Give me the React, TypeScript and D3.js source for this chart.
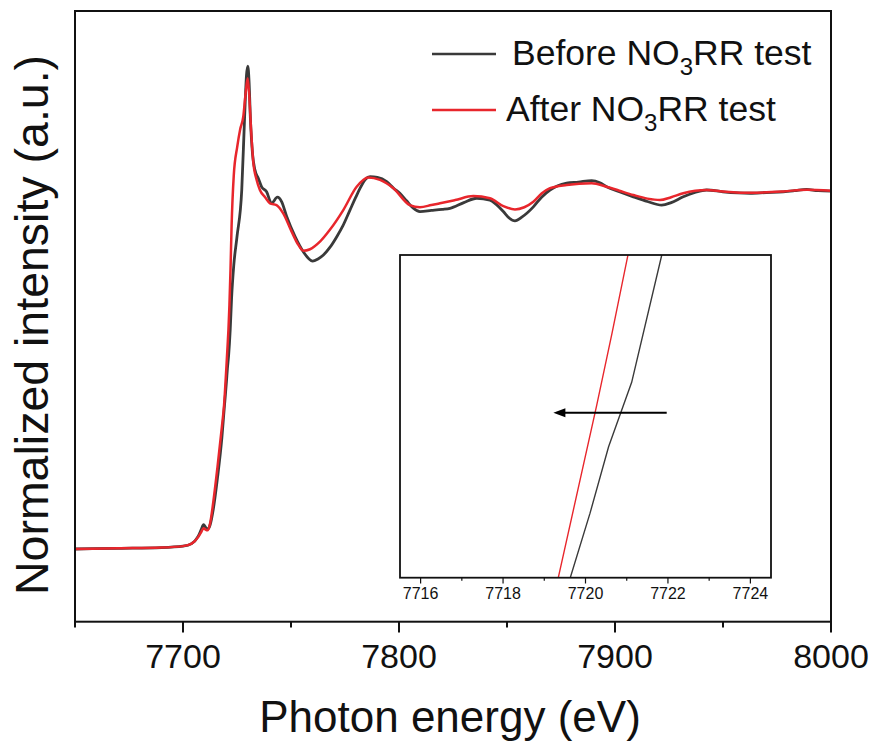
import React from "react";
import * as d3 from "d3";

// ---------- data ----------
const beforeData: [number, number][] = [
  [7650, 0.0], [7670, 0.002], [7690, 0.004], [7700, 0.008], [7704, 0.015], [7707, 0.035],
  [7708.5, 0.055], [7709.5, 0.068], [7710.5, 0.06], [7711.3, 0.055], [7712.5, 0.066],
  [7714, 0.11], [7716, 0.2], [7718, 0.31], [7719.2, 0.4], [7719.63, 0.43], [7720.11, 0.466],
  [7720.56, 0.503], [7721.12, 0.539], [7721.85, 0.61], [7722.5, 0.7], [7723.5, 0.79],
  [7725, 0.87], [7727.2, 1.0], [7728.5, 1.2], [7729.4, 1.32], [7730, 1.345], [7730.6, 1.3],
  [7731.2, 1.2], [7732.2, 1.1], [7733.3, 1.056], [7734.9, 1.032], [7736.4, 1.009],
  [7738.7, 0.995], [7741, 0.963], [7743.7, 0.98], [7745.7, 0.967], [7748, 0.926],
  [7751.9, 0.87], [7755.7, 0.828], [7760, 0.802], [7762.5, 0.808], [7765, 0.819],
  [7768, 0.84], [7771.2, 0.87], [7774, 0.9], [7777.3, 0.944], [7780, 0.98], [7782, 1.005],
  [7784.5, 1.03], [7786.6, 1.037], [7790, 1.035], [7794.3, 1.023], [7797.5, 1.005],
  [7800.5, 0.99], [7803.5, 0.97], [7806.5, 0.95], [7809.7, 0.94], [7815, 0.943],
  [7820, 0.946], [7823.6, 0.949], [7830, 0.965], [7836, 0.977], [7842.1, 0.972],
  [7845, 0.96], [7848.3, 0.94], [7851, 0.922], [7853.7, 0.914], [7857, 0.925],
  [7862.2, 0.953], [7866, 0.98], [7869.9, 1.0], [7873.5, 1.012], [7877.6, 1.019],
  [7883, 1.022], [7889.2, 1.026], [7893, 1.02], [7896.1, 1.009], [7902, 0.995],
  [7908.5, 0.981], [7915, 0.968], [7921.6, 0.958], [7926, 0.965], [7931.6, 0.981],
  [7937, 0.993], [7942.4, 1.0], [7950, 0.995], [7962.5, 0.991], [7970, 0.993],
  [7977.9, 0.995], [7983, 0.998], [7988.7, 1.002], [7994, 0.998], [8000, 0.997],
];

const afterData: [number, number][] = [
  [7650, 0.0], [7670, 0.002], [7690, 0.004], [7700, 0.008], [7704, 0.015], [7707, 0.033],
  [7708.5, 0.048], [7709.5, 0.058], [7710.5, 0.054], [7711.3, 0.052], [7712.5, 0.07],
  [7714, 0.13], [7716, 0.23], [7718, 0.34], [7719.0, 0.4], [7719.34, 0.43], [7720.27, 0.526],
  [7720.64, 0.566], [7721.03, 0.61], [7721.5, 0.68], [7722, 0.78], [7722.5, 0.9],
  [7723.5, 1.04], [7725.1, 1.12], [7726.5, 1.17], [7727.9, 1.204], [7729, 1.27],
  [7729.95, 1.311], [7730.7, 1.26], [7731.5, 1.17], [7732.5, 1.08], [7734.1, 1.028],
  [7735.6, 1.0], [7738, 0.98], [7740.3, 0.963], [7743.3, 0.958], [7746.4, 0.935],
  [7750.3, 0.884], [7753.4, 0.847], [7755.7, 0.831], [7758.8, 0.835], [7763.4, 0.856],
  [7768, 0.889], [7774.2, 0.944], [7780.4, 1.009], [7785.8, 1.035], [7791.2, 1.028],
  [7797.4, 1.005], [7805, 0.958], [7809.7, 0.952], [7815, 0.958], [7819, 0.963],
  [7826, 0.972], [7834.4, 0.983], [7842.1, 0.977], [7848.3, 0.955], [7853.7, 0.946],
  [7858, 0.952], [7862.2, 0.967], [7866, 0.99], [7869.9, 1.005], [7877.6, 1.014],
  [7889.2, 1.019], [7896.1, 1.009], [7902, 0.998], [7908.5, 0.986], [7915, 0.976],
  [7920.8, 0.972], [7926, 0.98], [7931.6, 0.991], [7942.4, 1.0], [7950, 0.996],
  [7962.5, 0.992], [7977.9, 0.996], [7988.7, 1.001], [8000, 0.998],
];

const xMajorTicks = [7700, 7800, 7900, 8000];
const xMinorTicks = [7650, 7750, 7850, 7950];
const insetMajorTicks = [7716, 7718, 7720, 7722, 7724];
const insetMinorTicks = [7717, 7719, 7721, 7723];
const arrowFrom: [number, number] = [7721.97, 0.522];
const arrowTo: [number, number] = [7719.22, 0.522];

const legendLabels = ["Before", "After"];
const xTitle = "Photon energy (eV)";
const yTitle = "Normalized intensity (a.u.)";

// ---------- style ----------
const BLACK = "#3a3a3a";
const RED = "#e8262c";
const FONT = "Liberation Sans, Arial, sans-serif";

export default function App() {
  const x = d3.scaleLinear().domain([7650, 8000]).range([75, 831]);
  const y = d3.scaleLinear().domain([-0.2025, 1.4986]).range([621.7, 11]);

  const line = d3
    .line<[number, number]>()
    .x((d) => x(d[0]))
    .y((d) => y(d[1]))
    .curve(d3.curveMonotoneX);

  const ix = d3.scaleLinear().domain([7715.5, 7724.5]).range([400, 771]);
  const iy = d3.scaleLinear().domain([0.43, 0.61]).range([577.7, 255]);
  const iline = d3
    .line<[number, number]>()
    .x((d) => ix(d[0]))
    .y((d) => iy(d[1]))
    .curve(d3.curveLinear);

  const ax1 = ix(arrowFrom[0]);
  const ax2 = ix(arrowTo[0]);
  const ay = iy(arrowFrom[1]);

  return (
    <svg
      width={875}
      height={746}
      style={{ position: "absolute", left: 0, top: 0, background: "#fff" }}
      fontFamily={FONT}
    >
      <defs>
        <clipPath id="mainClip">
          <rect x={75} y={11} width={756} height={610.7} />
        </clipPath>
        <clipPath id="insetClip">
          <rect x={400} y={255} width={371} height={322.7} />
        </clipPath>
      </defs>

      {/* main curves */}
      <g clipPath="url(#mainClip)">
        <path d={line(beforeData) || ""} fill="none" stroke={BLACK} strokeWidth={2.8} strokeLinejoin="round" />
        <path d={line(afterData) || ""} fill="none" stroke={RED} strokeWidth={2.5} strokeLinejoin="round" />
      </g>

      {/* main frame */}
      <rect x={75} y={11} width={756} height={610.7} fill="none" stroke="#111" strokeWidth={2} />
      {xMajorTicks.map((t) => (
        <line key={"M" + t} x1={x(t)} x2={x(t)} y1={621.7} y2={632.5} stroke="#111" strokeWidth={2} />
      ))}
      {xMinorTicks.map((t) => (
        <line key={"m" + t} x1={x(t)} x2={x(t)} y1={621.7} y2={627.5} stroke="#111" strokeWidth={2} />
      ))}
      {xMajorTicks.map((t) => (
        <text key={"L" + t} x={x(t)} y={668} fontSize={34} textAnchor="middle" fill="#111">
          {t}
        </text>
      ))}
      <text x={450} y={732} fontSize={44} textAnchor="middle" fill="#111">
        {xTitle}
      </text>
      <text
        transform={`translate(48,325) rotate(-90)`}
        fontSize={46.5}
        textAnchor="middle"
        fill="#111"
      >
        {yTitle}
      </text>

      {/* legend */}
      <line x1={432} x2={496} y1={54} y2={54} stroke={BLACK} strokeWidth={2.6} />
      <text x={512} y={65} fontSize={35.5} fill="#111">
        {legendLabels[0]} NO<tspan dy={10} fontSize={24}>3</tspan>
        <tspan dy={-10}>RR test</tspan>
      </text>
      <line x1={432} x2={496} y1={110} y2={110} stroke={RED} strokeWidth={2.6} />
      <text x={506} y={121} fontSize={35.5} fill="#111">
        {legendLabels[1]} NO<tspan dy={10} fontSize={24}>3</tspan>
        <tspan dy={-10}>RR test</tspan>
      </text>

      {/* inset */}
      <rect x={400} y={255} width={371} height={322.7} fill="#fff" />
      <g clipPath="url(#insetClip)">
        <path d={iline(beforeData) || ""} fill="none" stroke={BLACK} strokeWidth={1.4} />
        <path d={iline(afterData) || ""} fill="none" stroke={RED} strokeWidth={1.4} />
      </g>
      <rect x={400} y={255} width={371} height={322.7} fill="none" stroke="#111" strokeWidth={1.8} />
      {insetMajorTicks.map((t) => (
        <line key={"IM" + t} x1={ix(t)} x2={ix(t)} y1={577.7} y2={583.5} stroke="#111" strokeWidth={1.2} />
      ))}
      {insetMinorTicks.map((t) => (
        <line key={"Im" + t} x1={ix(t)} x2={ix(t)} y1={577.7} y2={580.7} stroke="#111" strokeWidth={1.2} />
      ))}
      {insetMajorTicks.map((t) => (
        <text key={"IL" + t} x={ix(t)} y={599} fontSize={16} textAnchor="middle" fill="#111">
          {t}
        </text>
      ))}
      {/* arrow */}
      <line x1={ax1} x2={ax2 + 9} y1={ay} y2={ay} stroke="#000" strokeWidth={2} />
      <path d={`M${ax2},${ay} L${ax2 + 12},${ay - 4.5} L${ax2 + 12},${ay + 4.5} Z`} fill="#000" />
    </svg>
  );
}
